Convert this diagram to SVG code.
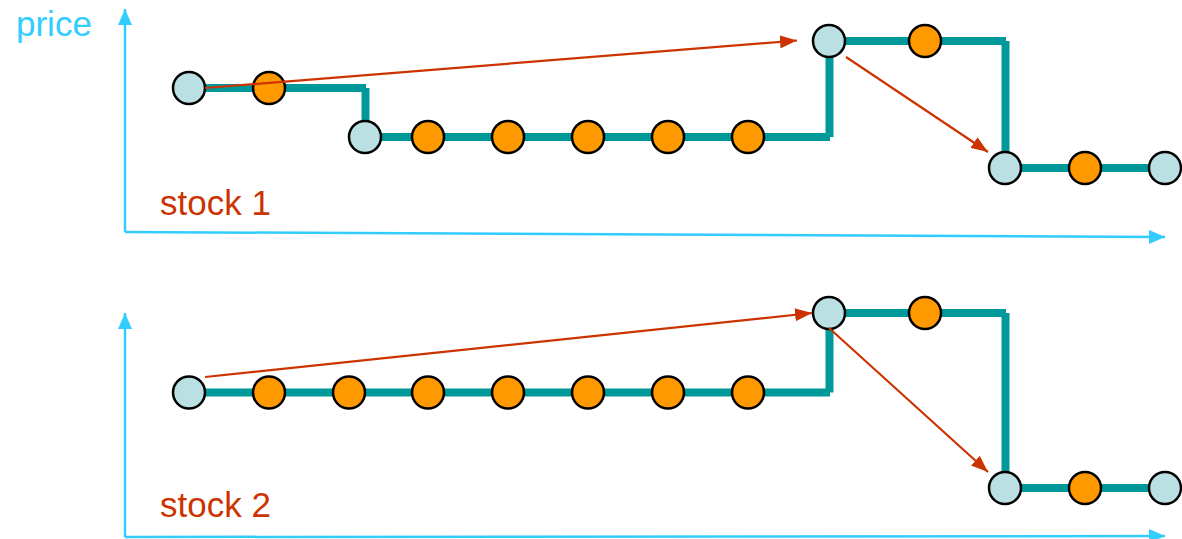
<svg xmlns="http://www.w3.org/2000/svg" width="1182" height="539" viewBox="0 0 1182 539">
<style>
.axis{stroke:#33CCFF;stroke-width:2.5;fill:none}
.track{stroke:#009999;stroke-width:8;fill:none;stroke-linecap:butt}
.red{stroke:#CC3300;stroke-width:2.2;fill:none}
.lt{fill:#BAE0E3;stroke:#000;stroke-width:2.5}
.or{fill:#FF9900;stroke:#000;stroke-width:2.5}
.lbl{font-family:"Liberation Sans",Arial,sans-serif;font-size:35px}
</style>
<defs>
<marker id="ah" viewBox="0 0 17 13" refX="17" refY="6.5" markerWidth="17" markerHeight="13" markerUnits="userSpaceOnUse" orient="auto">
<path d="M0,0 L17,6.5 L0,13 z" fill="#CC3300"/>
</marker>
<marker id="ab" viewBox="0 0 16 14" refX="16" refY="7" markerWidth="16" markerHeight="14" markerUnits="userSpaceOnUse" orient="auto">
<path d="M0,0 L16,7 L0,14 z" fill="#33CCFF"/>
</marker>
</defs>
<g id="axes">
<line class="axis" x1="125" y1="232" x2="125" y2="9" marker-end="url(#ab)"/>
<line class="axis" x1="125" y1="232" x2="1165" y2="237" marker-end="url(#ab)"/>
<line class="axis" x1="125" y1="537" x2="125" y2="313" marker-end="url(#ab)"/>
<line class="axis" x1="125" y1="537" x2="1165" y2="536" marker-end="url(#ab)"/>
<text class="lbl" x="16" y="36" fill="#33CCFF" font-size="36">price</text>
<text class="lbl" x="160" y="215" fill="#CC3300">stock 1</text>
<text class="lbl" x="160" y="517" fill="#CC3300">stock 2</text>
</g>
<g id="tracks">
<line class="track" x1="189" y1="88" x2="366" y2="88"/>
<line class="track" x1="365.5" y1="88" x2="365.5" y2="137"/>
<line class="track" x1="365" y1="137" x2="830" y2="137"/>
<line class="track" x1="829.5" y1="137" x2="829.5" y2="41"/>
<line class="track" x1="829" y1="41" x2="1006" y2="41"/>
<line class="track" x1="1005.5" y1="41" x2="1005.5" y2="168"/>
<line class="track" x1="1005" y1="168" x2="1165" y2="168"/>
<line class="track" x1="189" y1="392.5" x2="830" y2="392.5"/>
<line class="track" x1="829.5" y1="392.5" x2="829.5" y2="313"/>
<line class="track" x1="829" y1="313" x2="1006" y2="313"/>
<line class="track" x1="1005.5" y1="313" x2="1005.5" y2="488"/>
<line class="track" x1="1005" y1="488" x2="1165" y2="488"/>
</g>
<g id="s1n1"><circle class="lt" cx="189" cy="88" r="16"/></g>
<g id="s1n2"><circle class="or" cx="269" cy="88" r="16"/></g>
<g id="s1n3"><circle class="lt" cx="365" cy="137" r="16"/></g>
<g id="s1n4"><circle class="or" cx="428" cy="137" r="16"/></g>
<g id="s1n5"><circle class="or" cx="508" cy="137" r="16"/></g>
<g id="s1n6"><circle class="or" cx="588" cy="137" r="16"/></g>
<g id="s1n7"><circle class="or" cx="668" cy="137" r="16"/></g>
<g id="s1n8"><circle class="or" cx="748" cy="137" r="16"/></g>
<g id="s1n9"><circle class="lt" cx="829" cy="41" r="16"/></g>
<g id="s1n10"><circle class="or" cx="925" cy="41" r="16"/></g>
<g id="s1n11"><circle class="lt" cx="1005" cy="168" r="16"/></g>
<g id="s1n12"><circle class="or" cx="1085" cy="168" r="16"/></g>
<g id="s1n13"><circle class="lt" cx="1165" cy="168" r="16"/></g>
<g id="s2n1"><circle class="lt" cx="189" cy="392.5" r="16"/></g>
<g id="s2n2"><circle class="or" cx="269" cy="392.5" r="16"/></g>
<g id="s2n3"><circle class="or" cx="349" cy="392.5" r="16"/></g>
<g id="s2n4"><circle class="or" cx="428" cy="392.5" r="16"/></g>
<g id="s2n5"><circle class="or" cx="508" cy="392.5" r="16"/></g>
<g id="s2n6"><circle class="or" cx="588" cy="392.5" r="16"/></g>
<g id="s2n7"><circle class="or" cx="668" cy="392.5" r="16"/></g>
<g id="s2n8"><circle class="or" cx="748" cy="392.5" r="16"/></g>
<g id="s2n9"><circle class="lt" cx="829" cy="313" r="16"/></g>
<g id="s2n10"><circle class="or" cx="925" cy="313" r="16"/></g>
<g id="s2n11"><circle class="lt" cx="1005" cy="488" r="16"/></g>
<g id="s2n12"><circle class="or" cx="1085" cy="488" r="16"/></g>
<g id="s2n13"><circle class="lt" cx="1165" cy="488" r="16"/></g>
<g id="connectors">
<line class="red" x1="205" y1="88" x2="797" y2="40.5" marker-end="url(#ah)"/>
<line class="red" x1="846" y1="57" x2="988" y2="152" marker-end="url(#ah)"/>
<line class="red" x1="205" y1="377" x2="812" y2="313" marker-end="url(#ah)"/>
<line class="red" x1="829" y1="328" x2="988" y2="472" marker-end="url(#ah)"/>
</g>
</svg>
